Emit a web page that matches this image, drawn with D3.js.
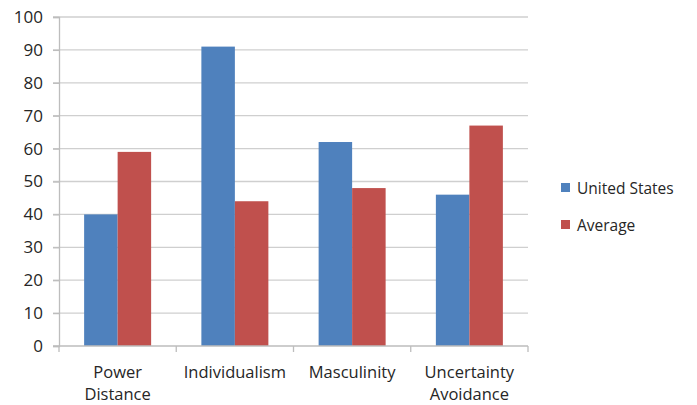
<!DOCTYPE html>
<html>
<head>
<meta charset="utf-8">
<script src="https://cdn.jsdelivr.net/npm/d3@7"></script>
<style>
  html, body { margin: 0; padding: 0; background: #fff; }
  svg text { font-family: "Open Sans", "Noto Sans", sans-serif; fill: #262626; }
</style>
</head>
<body>
<svg id="chart" width="697" height="405"></svg>
<script>
// Hofstede cultural dimensions: United States vs. average
const categories = [["Power", "Distance"], ["Individualism"], ["Masculinity"], ["Uncertainty", "Avoidance"]];
const seriesNames = ["United States", "Average"];
const unitedStates = [40, 91, 62, 46];
const average = [59, 44, 48, 67];
const yTicks = [0, 10, 20, 30, 40, 50, 60, 70, 80, 90, 100];
const colors = ["#4f81bd", "#c0504d"];

const svg = d3.select("#chart");
const plotLeft = 59, plotRight = 528, plotTop = 17, plotBottom = 346;

const x = d3.scaleBand().domain(d3.range(categories.length)).range([plotLeft, plotRight]).paddingInner(0).paddingOuter(0);
const y = d3.scaleLinear().domain([0, 100]).range([plotBottom, plotTop]);

// inner band for the two bars of each category (gap width 150%)
const groupWidth = x.bandwidth() * 2 / 3.5;
const xs = d3.scaleBand().domain([0, 1]).range([0, groupWidth]).padding(0);

// horizontal gridlines
svg.append("g")
  .selectAll("line")
  .data(yTicks.filter(d => d > 0))
  .join("line")
  .attr("x1", plotLeft - 6).attr("x2", plotRight)
  .attr("y1", d => y(d)).attr("y2", d => y(d))
  .attr("stroke", "#cfcfcf").attr("stroke-width", 1.3);

// y axis
const yAxis = svg.append("g")
  .attr("transform", `translate(${plotLeft},0)`)
  .call(d3.axisLeft(y).tickValues(yTicks).tickSize(6).tickPadding(10));
yAxis.select(".domain").attr("stroke", "#bdbdbd").attr("stroke-width", 1.3);
yAxis.selectAll(".tick line").attr("stroke", "#bdbdbd").attr("stroke-width", 1.3);
yAxis.selectAll(".tick text").attr("font-size", 17).attr("fill", "#262626")
  .style("font-family", '"Open Sans", "Noto Sans", sans-serif');

// bars
const seriesData = [unitedStates, average];
seriesData.forEach((vals, si) => {
  svg.append("g")
    .selectAll("rect")
    .data(vals)
    .join("rect")
    .attr("x", (d, i) => x(i) + (x.bandwidth() - groupWidth) / 2 + xs(si))
    .attr("width", xs.bandwidth())
    .attr("y", d => y(d))
    .attr("height", d => y(0) - y(d))
    .attr("fill", colors[si]);
});

// x axis
const xAxis = svg.append("g")
  .attr("transform", `translate(0,${plotBottom})`);
xAxis.append("line")
  .attr("x1", plotLeft - 6).attr("x2", plotRight)
  .attr("stroke", "#bdbdbd").attr("stroke-width", 1.3);
xAxis.selectAll("line.tick")
  .data(d3.range(categories.length + 1))
  .join("line")
  .attr("class", "tick")
  .attr("x1", i => plotLeft + i * x.step()).attr("x2", i => plotLeft + i * x.step())
  .attr("y1", 0).attr("y2", 6)
  .attr("stroke", "#bdbdbd").attr("stroke-width", 1.3);

// category labels
const labels = svg.append("g");
categories.forEach((lines, i) => {
  const cx = x(i) + x.bandwidth() / 2;
  const t = labels.append("text")
    .attr("text-anchor", "middle")
    .attr("font-size", 16.5)
    .attr("x", cx)
    .attr("y", 378);
  lines.forEach((ln, k) => {
    t.append("tspan")
      .attr("x", cx)
      .attr("dy", k === 0 ? 0 : 22)
      .text(ln);
  });
});

// legend
const legend = svg.append("g").attr("transform", "translate(561,183)");
seriesNames.forEach((name, i) => {
  const g = legend.append("g").attr("transform", `translate(0,${i * 37})`);
  g.append("rect").attr("width", 9).attr("height", 9).attr("fill", colors[i]);
  g.append("text").attr("x", 16).attr("y", 10.5).attr("font-size", 15.5).text(name);
});
</script>
</body>
</html>
